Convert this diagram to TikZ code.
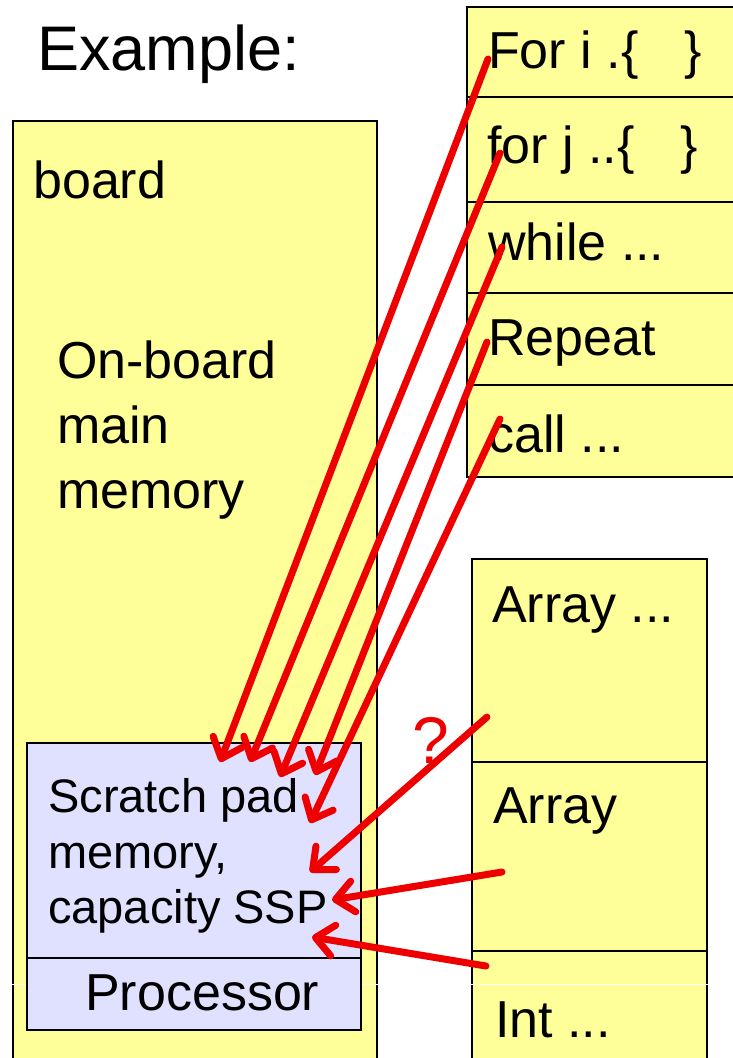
\documentclass[tikz,border=0pt]{standalone}
\usepackage{fontspec}
\setmainfont{Liberation Sans}
\usetikzlibrary{arrows.meta}
\definecolor{padyellow}{RGB}{255,255,153}
\definecolor{padlav}{RGB}{224,224,255}
\definecolor{arrowred}{RGB}{238,0,0}
\tikzset{
  box/.style={draw=black,line width=2.2pt},
  lbl/.style={anchor=base west,inner sep=0pt,font=\fontsize{52}{62}\selectfont},
  smalllbl/.style={anchor=base west,inner sep=0pt,font=\fontsize{47}{56}\selectfont},
  redtip/.tip={Straight Barb[length=18pt,width=31pt,line cap=round,line join=round]},
  redarrow/.style={draw=arrowred,line width=7pt,line cap=round,-redtip}
}
\begin{document}
\begin{tikzpicture}[x=1pt,y=-1pt]
\fill[white] (0,0) rectangle (733,1058);
\useasboundingbox (0,0) rectangle (733,1058);

% board
\draw[box,fill=padyellow] (13,121) rectangle (377,1080);
% code table
\draw[box,fill=padyellow] (467,7) rectangle (760,477);
\foreach \yy in {97,202,293,385} \draw[box] (467,\yy) -- (760,\yy);
% data table
\draw[box,fill=padyellow] (472,559) rectangle (707,1080);
\foreach \yy in {762,951} \draw[box] (472,\yy) -- (707,\yy);
% faint slide line
\draw[white,line width=1pt] (0,984) -- (733,984);
% scratch pad + processor
\draw[box,fill=padlav,line width=2pt] (27,743) rectangle (361,1030);
\draw[box,line width=2pt] (27,958) -- (361,958);

% texts
\node[anchor=base west,inner sep=0pt,font=\fontsize{63}{75}\selectfont] (title) at (37,70) {Example:};
\node[lbl] (board) at (33,198) {board};
\node[lbl] (ob1) at (57,378) {On-board};
\node[lbl] (ob2) at (57,443) {main};
\node[lbl] (ob3) at (57,508) {memory};
\node[lbl] (c1) at (488,68) {For i .\{\hspace{46pt}\}};
\node[lbl] (c2) at (487,163) {for j ..\{\hspace{46pt}\}};
\node[lbl] (c3) at (488,260) {while ...};
\node[lbl] (c4) at (488,355) {Repeat};
\node[lbl] (c5) at (488,452) {call ...};
\node[lbl] (d1) at (492,622) {Array ...};
\node[lbl] (d2) at (493,823) {Array};
\node[lbl] (d3) at (495,1037) {Int ...};
\node[smalllbl] (s1) at (48,812) {Scratch pad};
\node[smalllbl] (s2) at (48,868) {memory,};
\node[smalllbl] (s3) at (48,923) {capacity SSP};
\node[lbl] (proc) at (85,1010) {Processor};
\node[anchor=base west,inner sep=0pt,text=arrowred,font=\fontsize{66}{70}\selectfont] (q) at (412,763) {?};

% arrow end points
\coordinate (a1) at (488,59);  \coordinate (b1) at (220,762);
\coordinate (a2) at (500,153); \coordinate (b2) at (250,762);
\coordinate (a3) at (502,247); \coordinate (b3) at (280,777);
\coordinate (a4) at (487,342); \coordinate (b4) at (315,775);
\coordinate (a5) at (500,419); \coordinate (b5) at (310,823);
\coordinate (a6) at (487,717); \coordinate (b6) at (310,872);
\coordinate (a7) at (502,872); \coordinate (b7) at (332,900);
\coordinate (a8) at (486,966); \coordinate (b8) at (312,937);
\draw[redarrow] (a1) -- (b1);
\draw[redarrow] (a2) -- (b2);
\draw[redarrow] (a3) -- (b3);
\draw[redarrow] (a4) -- (b4);
\draw[redarrow] (a5) -- (b5);
\draw[redarrow] (a6) -- (b6);
\draw[redarrow] (a7) -- (b7);
\draw[redarrow] (a8) -- (b8);
\end{tikzpicture}
\end{document}
